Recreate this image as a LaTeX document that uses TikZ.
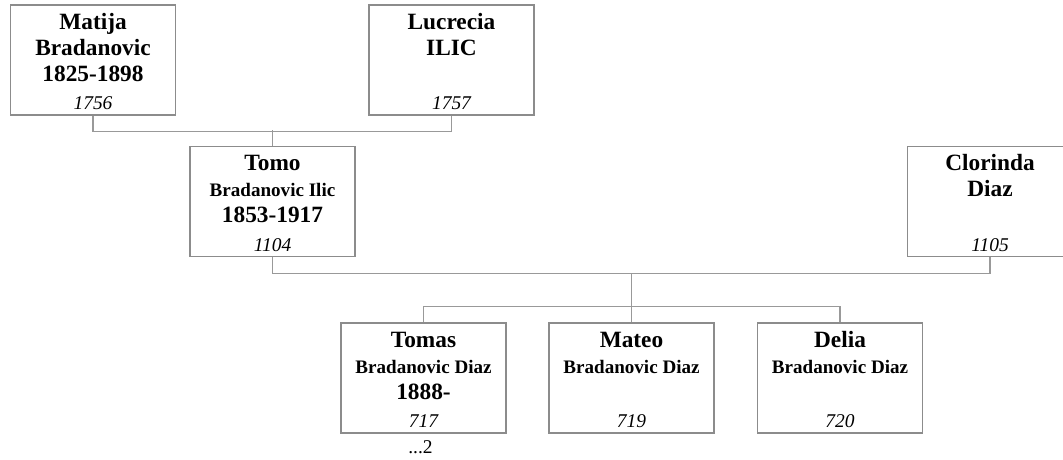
\documentclass[tikz,border=0pt]{standalone}
\usepackage{fontspec}
\setmainfont{Liberation Serif}
\usetikzlibrary{calc}

\definecolor{boxgray}{HTML}{8C8C8C}
\definecolor{linkgray}{HTML}{999999}
\newcommand{\bigfnt}{\fontsize{17.5}{20}\selectfont\bfseries}
\newcommand{\subfnt}{\fontsize{14.3}{17}\selectfont\bfseries}
\newcommand{\idfnt}{\fontsize{14.6}{17}\selectfont\itshape}

\tikzset{
  pbox/.style={draw=boxgray, line width=0.9pt, minimum width=123.75pt, minimum height=82.5pt, inner sep=0pt},
  line/.style={anchor=base, inner sep=0pt},
  link/.style={draw=linkgray, line width=0.8pt}
}

\begin{document}
\begin{tikzpicture}[x=0.75pt, y=-0.75pt]
  \clip (0,0) rectangle (1063,460);
  % one box per person: name, second line, years, id
  \foreach \nm/\x/\y/\la/\lb/\fb/\lc/\id in {
      matija/93/60/Matija/Bradanovic/\bigfnt/1825-1898/1756,
      lucrecia/451.5/60/Lucrecia/ILIC/\bigfnt//1757,
      tomo/272.5/201.5/Tomo/Bradanovic Ilic/\subfnt/1853-1917/1104,
      clorinda/990/201.5/Clorinda/Diaz/\bigfnt//1105,
      tomas/423.5/378/Tomas/Bradanovic Diaz/\subfnt/1888-/717,
      mateo/631.5/378/Mateo/Bradanovic Diaz/\subfnt//719,
      delia/840/378/Delia/Bradanovic Diaz/\subfnt//720}{
    \node[pbox] (\nm) at (\x,\y) {};
    \node[line, font=\bigfnt] (\nm-a) at ($(\nm.north)+(0,25)$) {\la};
    \node[line, font=\fb] (\nm-b) at ($(\nm.north)+(0,51)$) {\lb};
    \node[line, font=\bigfnt] (\nm-c) at ($(\nm.north)+(0,77)$) {\lc};
    \node[line, font=\idfnt] (\nm-id) at ($(\nm.south)+(0,-6)$) {\id};
  }
  \node[line, font=\fontsize{14.6}{17}\selectfont] (tomas-more) at ($(tomas.south)+(-3,20)$) {...2};

  % parents of Tomo
  \draw[link] (matija.south) -- ++(0,16) -| (lucrecia.south);
  \draw[link] (tomo.north) -- ++(0,-16);
  % Tomo and Clorinda
  \draw[link] (tomo.south) -- ++(0,16) coordinate (fam) -| (clorinda.south);
  \draw[link] (mateo.north) -- (mateo.north |- fam);
  \draw[link] (tomas.north) -- ++(0,-16) -| (delia.north);
\end{tikzpicture}
\end{document}
